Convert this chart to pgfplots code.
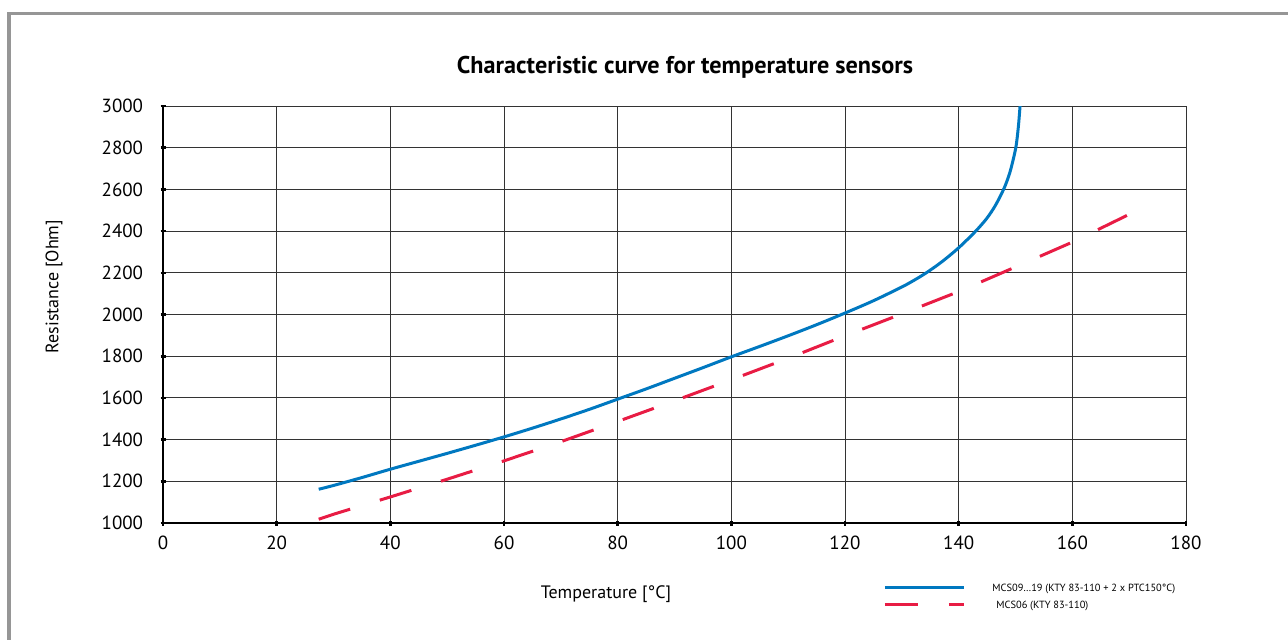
\documentclass[border=0pt]{standalone}
\usepackage{pgfplots}
\pgfplotsset{compat=1.18}
\usepackage{fontspec}
\setmainfont{PT Sans}
\definecolor{curveblue}{RGB}{0,120,192}
\definecolor{curvered}{RGB}{232,28,68}
\definecolor{framegray}{RGB}{150,150,150}

% KTY 83-110 + 2 x PTC150
\pgfplotstableread{
T R
27.4 1162
30 1180
35 1218
40 1258
45 1296
50 1334
55 1373
60 1413
65 1455
70 1499
75 1545
80 1594
85 1643
90 1694
95 1745
100 1797
105 1847
110 1898
115 1951
120 2007
125 2066
130 2132
132.2 2165
134.3 2200
137 2252
140 2320
143 2400
145 2463
146.5 2525
147.9 2600
148.6 2648
149.2 2700
150.05 2800
150.5 2900
150.8 3000
}\mcsnine

% KTY 83-110
\pgfplotstableread{
T R
27.4 1018
30 1042
40 1125
50 1210
60 1298
70 1390
80 1487
90 1586
100 1687
110 1790
120 1898
130 2003
140 2110
150 2228
160 2347
169.6 2475
}\mcssix

\begin{document}
\begin{tikzpicture}
\useasboundingbox (0pt,0pt) rectangle (644pt,319.5pt);
\draw[framegray, line width=1.7pt] (4.5pt,-5pt) -- (4.5pt,312.8pt) -- (650pt,312.8pt);
\node[font=\bfseries\fontsize{12.1}{14}\selectfont] at (342.5pt,286pt) {Characteristic curve for temperature sensors};
\begin{axis}[
    at={(81.5pt,58pt)}, anchor=south west,
    scale only axis,
    width=511.5pt, height=208.5pt,
    xmin=0, xmax=180, ymin=1000, ymax=3000,
    xtick={0,20,...,180},
    ytick={1000,1200,...,3000},
    axis x line*=bottom, axis y line*=left,
    axis line style={-, line width=1pt, black},
    grid=major,
    major grid style={line width=0.5pt, black!80},
    tick align=center,
    major tick length=2.5pt,
    tick style={line width=1.3pt, black},
    /pgf/number format/assume math mode=true,
    /pgf/number format/1000 sep={},
    tick label style={font=\fontsize{9.5}{11}\selectfont},
    xticklabel style={inner sep=0pt, anchor=north, yshift=-5pt},
    yticklabel style={inner sep=0pt, anchor=east, xshift=-8.5pt},
    xlabel={Temperature [°C]},
    ylabel={Resistance [Ohm]},
    label style={font=\fontsize{9}{11}\selectfont},
    xlabel style={at={(axis description cs:0.433,-0.170)}, anchor=center},
    ylabel style={at={(axis description cs:-0.1066,0.567)}, anchor=center},
    legend image code/.code={\draw[#1] (0pt,0pt) -- (39.5pt,0pt);},
    legend cell align=left,
    legend style={at={(axis description cs:0.7038,-0.139)}, anchor=north west,
        draw=none, fill=none, inner sep=0pt, row sep=2pt,
        font=\fontsize{5.2}{6.5}\selectfont,
        nodes={inner sep=0pt, text height=5pt, text depth=1.5pt},
        /tikz/every odd column/.append style={column sep=13.5pt}},
]
\addplot[curveblue, line width=1.5pt, smooth] table[x=T, y=R] {\mcsnine};
\addlegendentry{MCS09\ldots19 (KTY 83-110 + 2 x PTC150°C)}
\addplot[curvered, line width=1.5pt, dash pattern=on 16.5pt off 15.5pt] table[x=T, y=R] {\mcssix};
\addlegendentry{\hspace{2pt}MCS06 (KTY 83-110)}
\end{axis}
\end{tikzpicture}
\end{document}
